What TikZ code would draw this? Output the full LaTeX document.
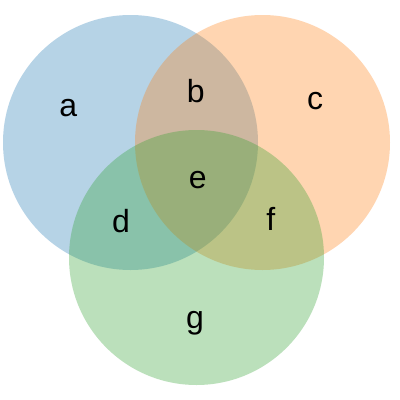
\documentclass[tikz,border=0pt]{standalone}
\usepackage{fontspec}
\setmainfont{Liberation Sans}
\definecolor{tabblue}{RGB}{31,119,180}
\definecolor{taborange}{RGB}{255,127,14}
\definecolor{tabgreen}{RGB}{44,160,44}
\begin{document}
\begin{tikzpicture}[x=1pt,y=-1pt,
  setcircle/.style={fill opacity=0.32, draw=none},
  lbl/.style={font=\fontsize{32}{38}\selectfont, text=black, inner sep=0pt, anchor=base}]
\useasboundingbox[fill=white] (0,0) rectangle (400,400);
\fill[setcircle, fill=tabblue] (130.5,142.5) circle[radius=127.5];
\fill[setcircle, fill=taborange] (262.5,142.5) circle[radius=127.5];
\fill[setcircle, fill=tabgreen] (196.5,257.5) circle[radius=127.5];
\node[lbl] (a) at (68.3,116) {a};
\node[lbl] (b) at (195.7,102) {b};
\node[lbl] (c) at (315,109.3) {c};
\node[lbl] (d) at (121,232.7) {d};
\node[lbl] (e) at (197.7,188.3) {e};
\node[lbl] (f) at (270.7,230.7) {f};
\node[lbl] (g) at (195,328.5) {g};
\end{tikzpicture}
\end{document}
